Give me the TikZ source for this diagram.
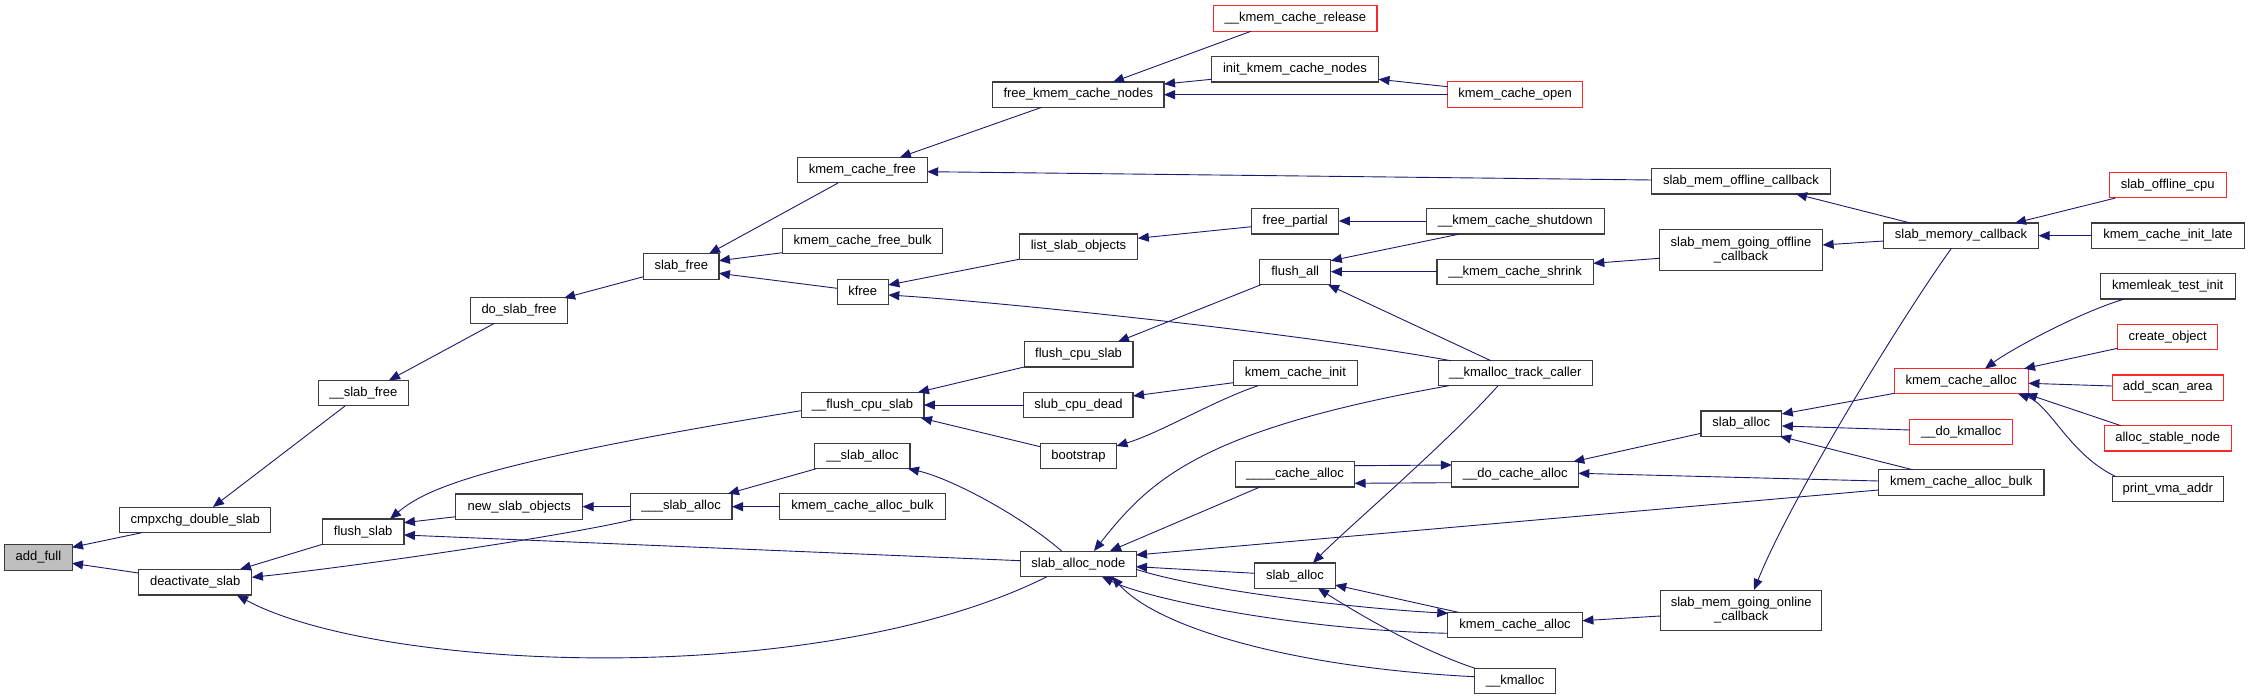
\documentclass[tikz,border=0pt]{standalone}
\usepackage{fontspec}
\setmainfont{Liberation Sans}
\usetikzlibrary{arrows.meta,calc}
\definecolor{edgecol}{RGB}{25,25,112}
\definecolor{boxline}{RGB}{60,60,60}
\definecolor{redline}{RGB}{255,40,40}
\definecolor{graybox}{RGB}{191,191,191}
\tikzset{
  box/.style={draw=boxline, line width=1.1pt, fill=white, rectangle, inner sep=0pt, outer sep=0pt,
    minimum height=25.4pt, text height=9.4pt, text depth=2.8pt, font=\fontsize{13}{14.5}\selectfont},
  boxtwo/.style={draw=boxline, line width=1.1pt, fill=white, rectangle, inner sep=0pt, outer sep=0pt,
    align=center, font=\fontsize{13}{14.3}\selectfont},
  redbox/.style={box, draw=redline},
  edge/.style={draw=edgecol, line width=0.9pt, {Triangle[length=11pt,width=9pt]}-}
}
\begin{document}
\begin{tikzpicture}[x=1pt,y=-1pt]
\useasboundingbox (0,0) rectangle (2249,700);
% column 1
\node[box, fill=graybox, minimum width=67.3] (addfull) at (38.4,557.4) {add\_full};
% column 2
\node[box, minimum width=151.2] (cmpx) at (195.2,519.8) {cmpxchg\_double\_slab};
\node[box, minimum width=113.4] (deact) at (195.2,582.3) {deactivate\_slab};
% column 3
\node[box, minimum width=89.8] (sfree) at (363.3,393.2) {\_\_slab\_free};
\node[box, minimum width=81.5] (flushslab) at (363.2,531.7) {flush\_slab};
% column 4
\node[box, minimum width=96.6] (doslab) at (519.1,310.5) {do\_slab\_free};
\node[box, minimum width=126.7] (newslab) at (519.2,506.7) {new\_slab\_objects};
% column 5
\node[box, minimum width=75.3] (slabfree) at (681.3,266.4) {slab\_free};
\node[box, minimum width=101.8] (salloc3) at (681.1,506.5) {\_\_\_slab\_alloc};
% column 6
\node[box, minimum width=129.8] (kcfree) at (862.3,170.2) {kmem\_cache\_free};
\node[box, minimum width=160.3] (kcfbulk) at (862.7,241.2) {kmem\_cache\_free\_bulk};
\node[box, minimum width=51.3] (kfree) at (862.7,292.2) {kfree};
\node[box, minimum width=122.9] (fcs2) at (862.5,405.2) {\_\_flush\_cpu\_slab};
\node[box, minimum width=95.2] (salloc2) at (862.4,456) {\_\_slab\_alloc};
\node[box, minimum width=165.7] (kcabL) at (862.5,506.5) {kmem\_cache\_alloc\_bulk};
% column 7
\node[box, minimum width=171.4] (fkcn) at (1078.3,94.7) {free\_kmem\_cache\_nodes};
\node[box, minimum width=118.7] (lso) at (1078.5,246.7) {list\_slab\_objects};
\node[box, minimum width=108.8] (fcs) at (1078.6,354.3) {flush\_cpu\_slab};
\node[box, minimum width=109.2] (scd) at (1078.4,405.2) {slub\_cpu\_dead};
\node[box, minimum width=76.3] (boot) at (1078.4,456) {bootstrap};
\node[box, minimum width=115.3] (san) at (1078.4,563.8) {slab\_alloc\_node};
% column 8
\node[redbox, minimum width=163.2] (release) at (1295.4,18.5) {\_\_kmem\_cache\_release};
\node[box, minimum width=166.9] (ikcn) at (1295,69.3) {init\_kmem\_cache\_nodes};
\node[box, minimum width=87.2] (fpart) at (1295.2,221.3) {free\_partial};
\node[box, minimum width=71.2] (fall) at (1295.2,272) {flush\_all};
\node[box, minimum width=124] (kcinit) at (1295.4,373.2) {kmem\_cache\_init};
\node[box, minimum width=118.9] (cache4) at (1295,474.3) {\_\_\_\_cache\_alloc};
\node[box, minimum width=80.3] (saM) at (1295,575.7) {slab\_alloc};
% column 9
\node[redbox, minimum width=135.3] (kco) at (1515.1,94.5) {kmem\_cache\_open};
\node[box, minimum width=177.8] (shut) at (1515.3,221.3) {\_\_kmem\_cache\_shutdown};
\node[box, minimum width=156.3] (shrink) at (1515.1,272) {\_\_kmem\_cache\_shrink};
\node[box, minimum width=154.5] (kmtc) at (1515.3,373.2) {\_\_kmalloc\_track\_caller};
\node[box, minimum width=126.9] (dca) at (1515.3,474.3) {\_\_do\_cache\_alloc};
\node[box, minimum width=134.5] (kcaB) at (1515.1,625) {kmem\_cache\_alloc};
\node[box, minimum width=81.5] (kmalloc) at (1515.1,681) {\_\_kmalloc};
% column 10
\node[box, minimum width=178.4] (smoc) at (1741,181.3) {slab\_mem\_offline\_callback};
\node[boxtwo, minimum width=163.1, minimum height=40.7] (smgoff) at (1741,250.3) {slab\_mem\_going\_offline\\\_callback};
\node[box, minimum width=80.6] (saR) at (1741.3,423.7) {slab\_alloc};
\node[boxtwo, minimum width=161.3, minimum height=40.3] (smgon) at (1741.2,610.2) {slab\_mem\_going\_online\\\_callback};
% column 11
\node[box, minimum width=154.9] (smc) at (1961,235.7) {slab\_memory\_callback};
\node[redbox, minimum width=134.3] (kcaR) at (1961.2,381.2) {kmem\_cache\_alloc};
\node[redbox, minimum width=103.1] (dkm) at (1961.2,431.8) {\_\_do\_kmalloc};
\node[box, minimum width=165.5] (kcabR) at (1961.2,482.5) {kmem\_cache\_alloc\_bulk};
% column 12
\node[redbox, minimum width=116.8] (soc) at (2167.7,185.2) {slab\_offline\_cpu};
\node[box, minimum width=152.8] (kcil) at (2167.9,235.7) {kmem\_cache\_init\_late};
\node[box, minimum width=135] (klti) at (2167.7,286.3) {kmemleak\_test\_init};
\node[redbox, minimum width=100.2] (cobj) at (2167.7,337) {create\_object};
\node[redbox, minimum width=111] (asa) at (2167.7,387.7) {add\_scan\_area};
\node[redbox, minimum width=127] (asn) at (2167.7,438.3) {alloc\_stable\_node};
\node[box, minimum width=111] (pva) at (2167.7,489.2) {print\_vma\_addr};

% edges (arrow at callee)
\draw[edge] ($(addfull)+(33.6,-10.1)$) -- ($(cmpx)+(-53.4,12.9)$);
\draw[edge] ($(addfull)+(33.6,5.9)$) -- ($(deact)+(-56.7,-9.3)$);
\draw[edge] ($(cmpx)+(17.8,-12.8)$) -- ($(sfree)+(-18.3,12.8)$);
\draw[edge] ($(sfree)+(25.7,-12.9)$) -- ($(doslab)+(-24.7,12.8)$);
\draw[edge] ($(doslab)+(45,-12.5)$) -- ($(slabfree)+(-37.7,10.3)$);
\draw[edge] ($(slabfree)+(27.7,-12.7)$) -- ($(kcfree)+(-24.2,12.8)$);
\draw[edge] ($(slabfree)+(37.6,-5.7)$) -- ($(kcfbulk)+(-80.2,11.5)$);
\draw[edge] ($(slabfree)+(37.6,6.9)$) -- ($(kfree)+(-25.7,-3.9)$);
\draw[edge] ($(kcfree)+(37.6,-12.9)$) -- ($(fkcn)+(-36.6,12.6)$);
\draw[edge] ($(kcfree)+(64.9,1.5)$) -- ($(smoc)+(-89.2,-1.3)$);
\draw[edge] ($(fkcn)+(34.7,-12.7)$) -- ($(release)+(-44.5,12.8)$);
\draw[edge] ($(fkcn)+(85.7,-10.7)$) -- ($(ikcn)+(-83.4,10)$);
\draw[edge] ($(fkcn)+(85.7,0)$) -- ($(kco)+(-67.6,0.2)$);
\draw[edge] ($(ikcn)+(83.5,10)$) -- ($(kco)+(-67.6,-7.8)$);
\draw[edge] ($(kfree)+(25.6,-7.2)$) -- ($(lso)+(-59.4,12.6)$);
\draw[edge] ($(kfree)+(25.6,2.8)$) .. controls (1000,302) and (1300,333) .. ($(kmtc)+(-64.5,-12.5)$);
\draw[edge] ($(lso)+(59.3,-8.4)$) -- ($(fpart)+(-43.6,5.4)$);
\draw[edge] ($(fpart)+(43.6,-0.3)$) -- ($(shut)+(-88.9,-0.3)$);
\draw[edge] ($(fall)+(35.6,-11.3)$) -- ($(shut)+(-55.4,12.7)$);
\draw[edge] ($(fall)+(35.6,-0.3)$) -- ($(shrink)+(-78.1,-0.3)$);
\draw[edge] ($(fall)+(32.8,12.7)$) -- ($(kmtc)+(-24.5,-12.5)$);
\draw[edge] ($(fcs)+(39.4,-12.6)$) -- ($(fall)+(-34.2,12.7)$);
\draw[edge] ($(shrink)+(78.2,-8.7)$) -- ($(smgoff)+(-81.5,8)$);
\draw[edge] ($(fcs2)+(55.5,-12.9)$) -- ($(fcs)+(-54.4,12.7)$);
\draw[edge] ($(fcs2)+(61.4,-0.2)$) -- ($(scd)+(-54.6,-0.2)$);
\draw[edge] ($(fcs2)+(58.5,12.8)$) -- ($(boot)+(-38.2,-9.3)$);
\draw[edge] ($(scd)+(54.6,-9.2)$) -- ($(kcinit)+(-62,9.5)$);
\draw[edge] ($(boot)+(38.1,-10)$) .. controls (1160,433) and (1215,400) .. ($(kcinit)+(-37.3,12.5)$);
\draw[edge] ($(flushslab)+(26.8,-12.7)$) .. controls (430,485) and (500,460) .. ($(fcs2)+(-61.5,5.5)$);
\draw[edge] ($(flushslab)+(40.7,-9)$) -- ($(newslab)+(-63.4,10)$);
\draw[edge] ($(flushslab)+(40.7,3.3)$) -- ($(san)+(-57.7,-3.1)$);
\draw[edge] ($(deact)+(44.8,-13)$) -- ($(flushslab)+(-40.8,12.6)$);
\draw[edge] ($(deact)+(56.7,-5)$) .. controls (350,567) and (560,537) .. ($(salloc3)+(-46.6,12.8)$);
\draw[edge] ($(deact)+(41.8,13)$) .. controls (380,672) and (820,690) .. ($(san)+(-31.4,12.9)$);
\draw[edge] ($(newslab)+(63.3,0)$) -- ($(salloc3)+(-50.9,0.2)$);
\draw[edge] ($(salloc3)+(46.9,-12.8)$) -- ($(salloc2)+(-46.1,12.7)$);
\draw[edge] ($(salloc3)+(50.9,0.2)$) -- ($(kcabL)+(-82.9,0.2)$);
\draw[edge] ($(salloc2)+(45.6,12.7)$) .. controls (950,478) and (1020,515) .. ($(san)+(-16.8,-12.8)$);
\draw[edge] ($(san)+(15.6,-12.8)$) .. controls (1150,480) and (1200,430) .. ($(kmtc)+(-66.3,12.5)$);
\draw[edge] ($(san)+(31.6,-12.8)$) -- ($(cache4)+(-35,12.7)$);
\draw[edge] ($(san)+(57.6,-8.8)$) -- ($(kcabR)+(-82.7,7.5)$);
\draw[edge] ($(san)+(57.6,2.9)$) -- ($(saM)+(-40.1,-2.4)$);
\draw[edge] ($(san)+(23.6,12.9)$) .. controls (1150,600) and (1300,630) .. ($(kcaB)+(-67.2,8.3)$);
\draw[edge] ($(san)+(33.6,12.9)$) .. controls (1160,630) and (1300,668) .. ($(kmalloc)+(-40.8,-4.3)$);
\draw[edge] ($(saM)+(18,-12.7)$) .. controls (1345,530) and (1445,445) .. ($(kmtc)+(-17.2,12.5)$);
\draw[edge] ($(saM)+(40.2,9.3)$) -- ($(kcaB)+(-56.8,-12.7)$);
\draw[edge] ($(saM)+(23,12.6)$) .. controls (1360,615) and (1420,650) .. ($(kmalloc)+(-40.1,-12.7)$);
\draw[edge] ($(kcaB)+(-66.8,-11.7)$) .. controls (1350,608) and (1200,590) .. ($(san)+(57.6,5.5)$);
\draw[edge] ($(kcaB)+(67.3,-4.3)$) -- ($(smgon)+(-80.6,5.8)$);
\draw[edge] ($(dca)+(-63.4,-9.3)$) -- ($(cache4)+(59.5,-8.6)$);
\draw[edge] ($(cache4)+(59.5,9)$) -- ($(dca)+(-63.6,8.4)$);
\draw[edge] ($(dca)+(58,-12.6)$) -- ($(saR)+(-40.3,9.6)$);
\draw[edge] ($(dca)+(63,-1)$) -- ($(kcabR)+(-82.7,-1.5)$);
\draw[edge] ($(saR)+(40.5,-9.7)$) -- ($(kcaR)+(-66.7,12.1)$);
\draw[edge] ($(saR)+(40.5,2.3)$) -- ($(dkm)+(-51.2,-1.8)$);
\draw[edge] ($(saR)+(38.7,12.6)$) -- ($(kcabR)+(-48.6,-12.8)$);
\draw[edge] ($(kcaR)+(23.8,-12.5)$) .. controls (2010,350) and (2080,312) .. ($(klti)+(-43.2,12.7)$);
\draw[edge] ($(kcaR)+(62.8,-12.5)$) -- ($(cobj)+(-50.1,11.3)$);
\draw[edge] ($(kcaR)+(67.2,2.1)$) -- ($(asa)+(-55.5,-1.7)$);
\draw[edge] ($(kcaR)+(64.8,12.5)$) -- ($(asn)+(-46.7,-12.6)$);
\draw[edge] ($(kcaR)+(56.8,12.5)$) .. controls (2050,405) and (2070,455) .. ($(pva)+(-52.2,-12.8)$);
\draw[edge] ($(smgon)+(12.8,-20.2)$) .. controls (1790,500) and (1900,320) .. ($(smc)+(-9.6,12.6)$);
\draw[edge] ($(smoc)+(55,12.7)$) -- ($(smc)+(-50.6,-12.7)$);
\draw[edge] ($(smgoff)+(81.6,-5.3)$) -- ($(smc)+(-77.4,5.3)$);
\draw[edge] ($(smc)+(54,-12.7)$) -- ($(soc)+(-52.2,12.8)$);
\draw[edge] ($(smc)+(77.5,0)$) -- ($(kcil)+(-76.4,0)$);
\end{tikzpicture}
\end{document}
